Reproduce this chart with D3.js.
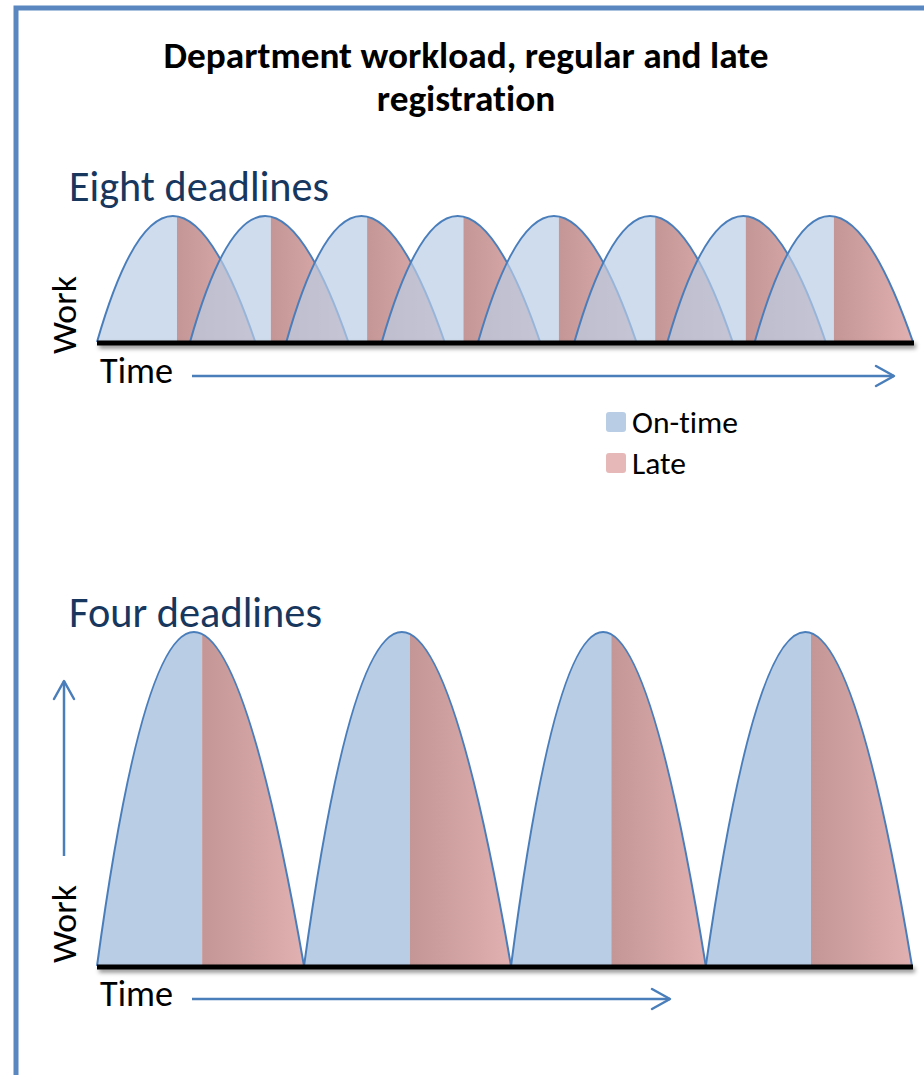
<!DOCTYPE html>
<html>
<head>
<meta charset="utf-8">
<script src="https://cdn.jsdelivr.net/npm/d3@7"></script>
<style>
  html, body { margin: 0; padding: 0; background: #ffffff; }
  svg { display: block; }
  text { font-family: Calibri, Carlito, Lato, "Open Sans", sans-serif; font-variant-ligatures: none; font-feature-settings: "liga" 0, "clig" 0; }
</style>
</head>
<body>
<script>
// ---------------- data (time as % of the time axis, work normalised to peak = 1) ----------------
const titleLines = ["Department workload, regular and late", "registration"];
const panelTitles = ["Eight deadlines", "Four deadlines"];
const legendLabels = ["On-time", "Late"];
const axisLabelX = "Time";
const axisLabelY = "Work";

// Eight deadlines
const eightOpen      = [0, 11.4, 23.2, 34.9, 46.7, 58.5, 69.9, 80.6];
const eightPeak      = [9.3, 20.6, 32.4, 44.2, 56.0, 67.8, 79.2, 89.8];
const eightDeadline  = [9.8, 21.3, 33.1, 44.9, 56.6, 68.4, 79.5, 90.3];
const eightClose     = [19.4, 30.8, 42.6, 54.3, 66.1, 77.9, 89.3, 100];
const eightPeakWork  = [1, 1, 1, 1, 1, 1, 1, 1];

// Four deadlines
const fourOpen       = [0, 25.4, 50.8, 74.7];
const fourPeak       = [11.9, 37.4, 62.1, 86.9];
const fourDeadline   = [12.9, 38.4, 63.1, 87.6];
const fourClose      = [25.4, 50.8, 74.7, 100];
const fourPeakWork   = [1, 1, 1, 1];

// ---------------- drawing ----------------
const W = 924, H = 1075;
const BLUE_LINE = "#4a7ebb";
const NAVY = "#17375e";

const svg = d3.select("body").append("svg").attr("width", W).attr("height", H);
const defs = svg.append("defs");

const grad = defs.append("linearGradient").attr("id", "lateGrad")
  .attr("x1", "0%").attr("x2", "100%").attr("y1", "0%").attr("y2", "0%");
grad.append("stop").attr("offset", "0%").attr("stop-color", "#c49696");
grad.append("stop").attr("offset", "100%").attr("stop-color", "#e1b0b0");

const shadow = defs.append("filter").attr("id", "shadow")
  .attr("filterUnits", "userSpaceOnUse")
  .attr("x", 0).attr("y", 0).attr("width", W).attr("height", H);
shadow.append("feDropShadow").attr("dx", 2).attr("dy", 3).attr("stdDeviation", 2)
  .attr("flood-color", "#000").attr("flood-opacity", 0.45);

// outer frame
svg.append("rect").attr("x", 16).attr("y", 8).attr("width", 1000).attr("height", 1200)
  .attr("fill", "none").attr("stroke", "#5b87c0").attr("stroke-width", 5);

// title
const title = svg.append("text").attr("text-anchor", "middle").attr("font-weight", "bold").attr("fill", "#000");
title.append("tspan").attr("x", 466).attr("y", 68).text(titleLines[0]);
title.append("tspan").attr("x", 466).attr("y", 111).text(titleLines[1]);
title.attr("font-size", 30);
{
  const w = title.select("tspan").node().getComputedTextLength();
  title.attr("font-size", 30 * 605 / w);
}

function fit(t, target) {
  const fs = parseFloat(t.attr("font-size"));
  const w = t.node().getComputedTextLength();
  t.attr("font-size", fs * target / w);
  return t;
}

function arrowHead(g, x, y, dir) {
  const L = 18, Hh = 10;
  let pts;
  if (dir === "right") pts = [[x - L, y - Hh], [x, y], [x - L, y + Hh]];
  else pts = [[x - Hh, y + L], [x, y], [x + Hh, y + L]];
  g.append("path").attr("d", d3.line()(pts)).attr("fill", "none")
    .attr("stroke", BLUE_LINE).attr("stroke-width", 2.5).attr("stroke-linecap", "round")
    .attr("stroke-linejoin", "round");
}

function panel(cfg) {
  const g = svg.append("g");
  const x = d3.scaleLinear().domain([0, 100]).range([cfg.x0, cfg.x1]);
  const y = d3.scaleLinear().domain([0, 1]).range([cfg.yBase, cfg.yPeak]);

  const humps = cfg.open.map((o, i) => ({
    open: o, peak: cfg.peak[i], deadline: cfg.deadline[i], close: cfg.close[i], work: cfg.work[i], i
  }));

  const humpPath = d => {
    const xa = x(d.open), xb = x(d.close), xp = x(d.peak);
    const cx = 2 * xp - (xa + xb) / 2;
    return `M${xa},${y(0)} Q${cx},${y(2 * d.work)} ${xb},${y(0)}`;
  };

  humps.forEach(d => {
    const id = `clip-${cfg.name}-${d.i}`;
    defs.append("clipPath").attr("id", id).append("path").attr("d", humpPath(d) + "Z");
    const hg = g.append("g");
    hg.append("rect")
      .attr("x", x(d.open)).attr("width", x(d.deadline) - x(d.open))
      .attr("y", y(d.work) - 3).attr("height", y(0) - y(d.work) + 3)
      .attr("fill", "#b9cde5").attr("fill-opacity", cfg.blueOpacity)
      .attr("clip-path", `url(#${id})`);
    hg.append("rect")
      .attr("x", x(d.deadline)).attr("width", x(d.close) - x(d.deadline))
      .attr("y", y(d.work) - 3).attr("height", y(0) - y(d.work) + 3)
      .attr("fill", "url(#lateGrad)")
      .attr("clip-path", `url(#${id})`);
    hg.append("path").attr("d", humpPath(d)).attr("fill", "none")
      .attr("stroke", BLUE_LINE).attr("stroke-width", 2);
  });

  // baseline with shadow
  g.append("rect").attr("x", cfg.x0).attr("y", y(0) - 1.5).attr("width", cfg.x1 - cfg.x0 + 1).attr("height", 5)
    .attr("fill", "#000").attr("filter", "url(#shadow)");

  // panel title
  fit(g.append("text").attr("x", 69).attr("y", cfg.titleY).attr("fill", NAVY)
    .attr("font-size", 36).text(cfg.title), cfg.titleW);

  // Time label + arrow
  fit(g.append("text").attr("x", 100).attr("y", cfg.timeY).attr("fill", "#000")
    .attr("font-size", 28).text(axisLabelX), 73);
  g.append("line").attr("x1", 192).attr("x2", cfg.arrowEnd).attr("y1", cfg.arrowY).attr("y2", cfg.arrowY)
    .attr("stroke", BLUE_LINE).attr("stroke-width", 2.5);
  arrowHead(g, cfg.arrowEnd, cfg.arrowY, "right");

  // Work label
  fit(g.append("text").attr("transform", `translate(76,${cfg.workY}) rotate(-90)`)
    .attr("fill", "#000").attr("font-size", 28).text(axisLabelY), 78);

  return g;
}

panel({
  name: "eight", x0: 97, x1: 913, yBase: 342, yPeak: 216,
  open: eightOpen, peak: eightPeak, deadline: eightDeadline, close: eightClose, work: eightPeakWork,
  blueOpacity: 0.7, title: panelTitles[0], titleY: 201, titleW: 260,
  timeY: 383, arrowY: 376, arrowEnd: 894, workY: 354
});

const bottom = panel({
  name: "four", x0: 97, x1: 912, yBase: 966, yPeak: 632,
  open: fourOpen, peak: fourPeak, deadline: fourDeadline, close: fourClose, work: fourPeakWork,
  blueOpacity: 1, title: panelTitles[1], titleY: 627, titleW: 253,
  timeY: 1006, arrowY: 999, arrowEnd: 670, workY: 963
});

// vertical Work arrow (bottom panel)
bottom.append("line").attr("x1", 64).attr("x2", 64).attr("y1", 856).attr("y2", 681)
  .attr("stroke", BLUE_LINE).attr("stroke-width", 2.5);
arrowHead(bottom, 64, 681, "up");

// legend
const legendFills = ["#b9cde5", "#e6b9b8"];
const lg = svg.append("g");
legendLabels.forEach((lab, i) => {
  const yy = 412 + i * 41;
  lg.append("rect").attr("x", 606).attr("y", yy).attr("width", 20).attr("height", 20)
    .attr("rx", 3).attr("fill", legendFills[i]);
  fit(lg.append("text").attr("x", 632).attr("y", yy + 21).attr("fill", "#000")
    .attr("font-size", 26).text(lab), i === 0 ? 106 : 54);
});
</script>
</body>
</html>
